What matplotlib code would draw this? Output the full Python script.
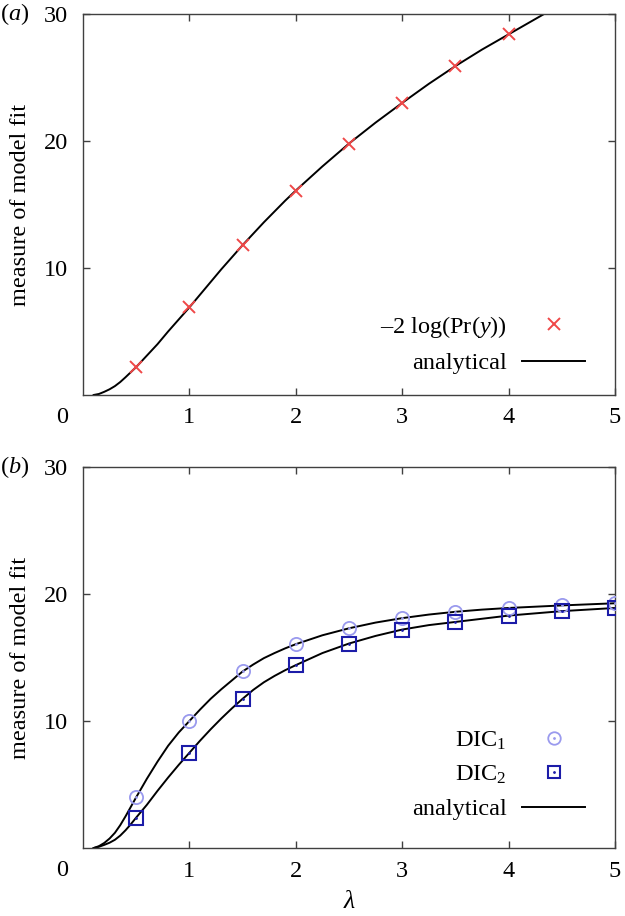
import matplotlib
matplotlib.use('Agg')
import matplotlib.pyplot as plt
from matplotlib.lines import Line2D
from matplotlib.transforms import blended_transform_factory

# 字体
plt.rcParams['font.family'] = ['Liberation Serif', 'DejaVu Serif']
plt.rcParams['mathtext.fontset'] = 'custom'
plt.rcParams['mathtext.rm'] = 'Liberation Serif'
plt.rcParams['mathtext.it'] = 'Liberation Serif:italic'

# (a) 数据
lam_a = [0.5, 1.0, 1.5, 2.0, 2.5, 3.0, 3.5, 4.0]
logpr = [2.2, 6.9, 11.8, 16.1, 19.8, 23.0, 25.9, 28.4]
curve_a_x = [0.1, 0.15, 0.2, 0.25, 0.3, 0.35, 0.4, 0.45, 0.5, 0.6, 0.7, 0.8, 0.9, 1.0,
             1.1, 1.2, 1.3, 1.4, 1.5, 1.6, 1.7, 1.8, 1.9, 2.0, 2.25, 2.5, 2.75, 3.0,
             3.25, 3.5, 3.75, 4.0, 4.25, 4.5]
curve_a_y = [0.0, 0.08, 0.25, 0.45, 0.7, 1.02, 1.4, 1.8, 2.2, 3.1, 4.0, 5.0, 5.95, 6.9,
             7.9, 8.9, 9.9, 10.85, 11.8, 12.7, 13.6, 14.45, 15.3, 16.1, 18.0, 19.8,
             21.45, 23.0, 24.5, 25.9, 27.2, 28.4, 29.6, 30.8]

# (b) 数据
lam_b = [0.5, 1.0, 1.5, 2.0, 2.5, 3.0, 3.5, 4.0, 4.5, 5.0]
dic1 = [4.0, 10.0, 13.9, 16.05, 17.3, 18.1, 18.6, 18.9, 19.1, 19.27]
dic2 = [2.4, 7.5, 11.75, 14.4, 16.1, 17.2, 17.8, 18.3, 18.65, 18.9]
curve_b_x = [0.1, 0.15, 0.2, 0.25, 0.3, 0.35, 0.4, 0.45, 0.5, 0.6, 0.7, 0.8, 0.9, 1.0,
             1.1, 1.2, 1.3, 1.4, 1.5, 1.6, 1.7, 1.8, 1.9, 2.0, 2.25, 2.5, 2.75, 3.0,
             3.25, 3.5, 3.75, 4.0, 4.5, 5.0]
curve_b1 = [0.0, 0.15, 0.4, 0.75, 1.2, 1.8, 2.5, 3.25, 4.0, 5.45, 6.8, 8.05, 9.1, 10.0,
            10.9, 11.75, 12.5, 13.2, 13.9, 14.45, 14.95, 15.35, 15.72, 16.05, 16.75, 17.3,
            17.75, 18.1, 18.38, 18.6, 18.77, 18.9, 19.1, 19.27]
curve_b2 = [0.0, 0.1, 0.25, 0.42, 0.65, 0.98, 1.4, 1.88, 2.4, 3.4, 4.5, 5.55, 6.55, 7.5,
            8.45, 9.35, 10.2, 11.0, 11.75, 12.45, 13.05, 13.55, 14.0, 14.4, 15.35, 16.1,
            16.7, 17.2, 17.55, 17.8, 18.05, 18.3, 18.65, 18.9]

red = '#f04848'
light_blue = '#9a9aee'
dark_blue = '#1c1ca8'
axis_col = '#404040'
fs = 17.5

fig = plt.figure(figsize=(6.25, 9.16), dpi=100)
ax1 = fig.add_axes([0.1328, 0.5688, 0.8512, 0.4159])
ax2 = fig.add_axes([0.1328, 0.0742, 0.8512, 0.4160])


def style(ax, tag):
    ax.set_xlim(0, 5)
    ax.set_ylim(0, 30)
    ax.set_xticks([1, 2, 3, 4, 5])
    ax.set_yticks([10, 20, 30])
    ax.tick_params(direction='in', length=5, width=1, color=axis_col,
                   top=True, right=True, labelsize=fs)
    ax.tick_params(axis='x', pad=9)
    ax.tick_params(axis='y', pad=11)
    for s in ax.spines.values():
        s.set_color(axis_col)
        s.set_linewidth(1)
    ax.set_ylabel('measure of model fit', fontsize=fs, labelpad=9)
    tr = blended_transform_factory(ax.transAxes, ax.transAxes)
    ax.text(-0.04, -0.058, '0', transform=tr, fontsize=fs, ha='center', va='center')
    ax.text(-0.128, 1.0, '(' + r'$\mathit{' + tag + '}$' + ')', transform=ax.transAxes,
            fontsize=fs, ha='center', va='center')


# (a)
ax1.plot(curve_a_x, curve_a_y, color='black', lw=1.4, label='analytical', zorder=2)
ax1.plot(lam_a, logpr, linestyle='none', marker='x', ms=9, mew=1.4, color=red,
         label=r'–2 log(Pr($\mathit{y}$))', zorder=3)
style(ax1, 'a')
h, l = ax1.get_legend_handles_labels()
ax1.legend(h[::-1], l[::-1], loc='lower right', bbox_to_anchor=(0.944, 0.055),
           frameon=False, markerfirst=False, fontsize=fs, handlelength=2.6,
           handletextpad=0.62, labelspacing=0.5, borderpad=0, borderaxespad=0)

# (b)
ax2.plot(curve_b_x, curve_b1, color='black', lw=1.4, zorder=2)
ax2.plot(curve_b_x, curve_b2, color='black', lw=1.4, label='analytical', zorder=2)
ax2.plot(lam_b, dic1, linestyle='none', marker='o', ms=9.5, mew=1.3, mfc='none',
         color=light_blue, zorder=3)
ax2.plot(lam_b, dic1, linestyle='none', marker='.', ms=2, color=light_blue, zorder=3)
ax2.plot(lam_b, dic2, linestyle='none', marker='s', ms=9.5, mew=1.5, mfc='none',
         color=dark_blue, zorder=3)
ax2.plot(lam_b, dic2, linestyle='none', marker='.', ms=2, color=dark_blue, zorder=3)
style(ax2, 'b')
ax2.set_xlabel('λ', fontsize=fs + 1, fontstyle='italic', labelpad=7)

h1 = (Line2D([], [], linestyle='none', marker='o', ms=9, mew=1.3, mfc='none', color=light_blue),
      Line2D([], [], linestyle='none', marker='.', ms=2, color=light_blue))
h2 = (Line2D([], [], linestyle='none', marker='s', ms=9, mew=1.5, mfc='none', color=dark_blue),
      Line2D([], [], linestyle='none', marker='.', ms=2, color=dark_blue))
h3 = Line2D([], [], color='black', lw=1.4)
ax2.legend([h1, h2, h3], ['DIC$_1$', 'DIC$_2$', 'analytical'], loc='lower right',
           bbox_to_anchor=(0.944, 0.073), frameon=False, markerfirst=False, fontsize=fs,
           handlelength=2.6, handletextpad=0.62, labelspacing=0.5, borderpad=0,
           borderaxespad=0)

plt.savefig('out.png', dpi=100)
